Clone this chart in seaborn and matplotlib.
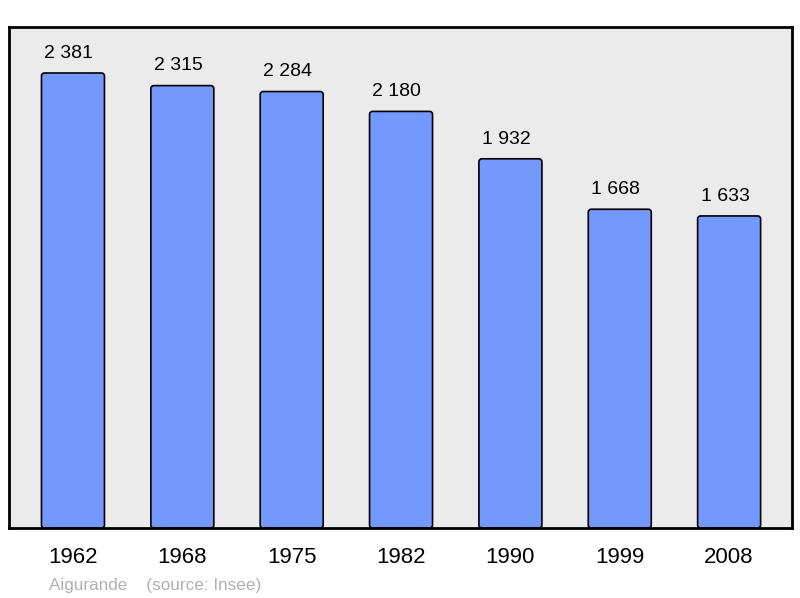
import matplotlib
matplotlib.use("Agg")
import matplotlib.pyplot as plt
from matplotlib.patches import FancyBboxPatch
import seaborn as sns
import pandas as pd

years = ["1962", "1968", "1975", "1982", "1990", "1999", "2008"]
population = [2381, 2315, 2284, 2180, 1932, 1668, 1633]
value_labels = ["2 381", "2 315", "2 284", "2 180", "1 932", "1 668", "1 633"]
caption = "Aigurande    (source: Insee)"

sns.set_theme(style="white")
plt.rcParams["font.family"] = ["Liberation Sans", "DejaVu Sans"]

df = pd.DataFrame({"year": years, "pop": population})

fig = plt.figure(figsize=(8, 5.98), dpi=100)
ax = fig.add_axes([9/800, 70/598, 783/800, 501/598])
ax.set_facecolor("#ebebeb")

sns.barplot(data=df, x="year", y="pop", color="#7399ff", saturation=1,
            edgecolor="black", linewidth=1.2, width=0.576, ax=ax)

ax.set_xlim(-0.585, 6.575)
ymax = 2381 * 501 / 455
ax.set_ylim(0, ymax)

# rounded bar corners
px_x = 7.16 / 783.0      # data units per pixel in x
px_y = ymax / 501.0      # data units per pixel in y
for p in list(ax.patches):
    x, y = p.get_x(), p.get_y()
    w, h = p.get_width(), p.get_height()
    fb = FancyBboxPatch((x, y), w, h,
                        boxstyle=f"round,pad=0,rounding_size={3*px_x}",
                        mutation_aspect=px_y / px_x,
                        facecolor=p.get_facecolor(), edgecolor="black",
                        linewidth=1.2, zorder=p.get_zorder())
    p.remove()
    ax.add_patch(fb)

for i, (v, lab) in enumerate(zip(population, value_labels)):
    ax.annotate(lab, (i, v), xytext=(-3, 11), textcoords="offset points",
                ha="center", va="baseline", fontsize=14, color="black")

ax.set_yticks([])
ax.set_xlabel("")
ax.set_ylabel("")
ax.tick_params(axis="x", length=0, pad=14, labelsize=16, labelcolor="black")
for s in ax.spines.values():
    s.set_visible(True)
    s.set_color("black")
    s.set_linewidth(2)

fig.text(49/800, 1 - 590/598, caption, fontsize=12.3, color="#b0b0b0",
         ha="left", va="baseline")

fig.savefig("out.png", dpi=100)
